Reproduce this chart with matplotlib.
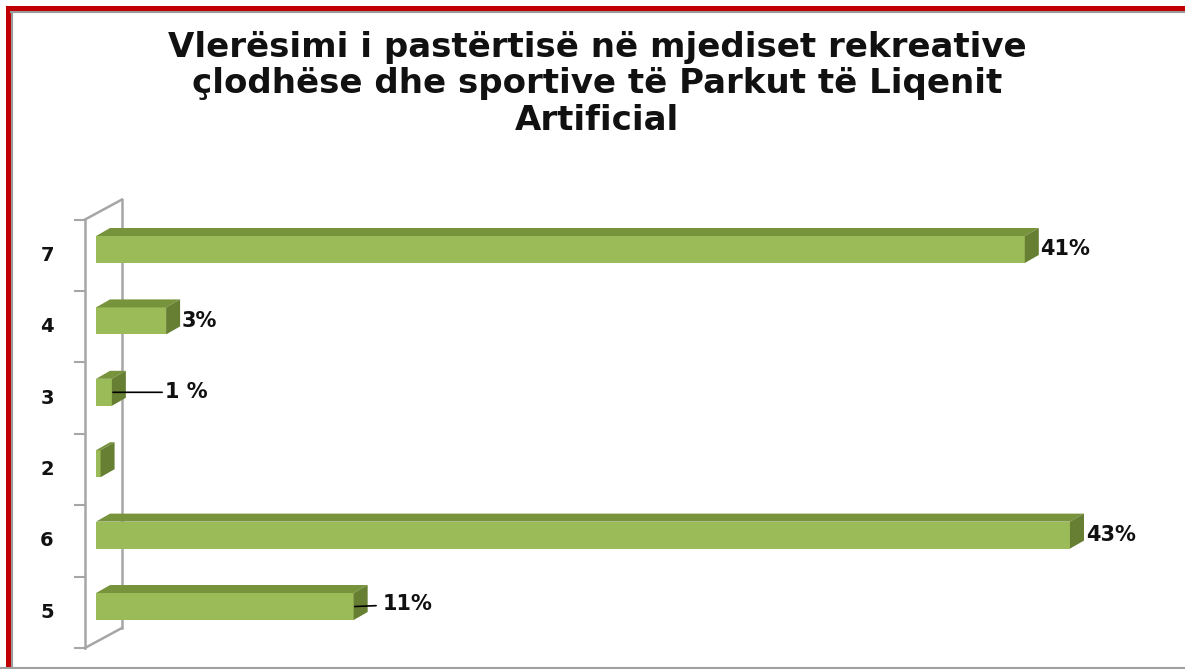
import matplotlib.pyplot as plt
from matplotlib.lines import Line2D
from matplotlib.patches import Polygon, Rectangle

# categories listed bottom to top, as drawn
categories = ["5", "6", "2", "3", "4", "7"]
values = [11.4, 43.1, 0.2, 0.7, 3.1, 41.1]
value_labels = ["11%", "43%", "", "1 %", "3%", "41%"]

title = ("Vlerësimi i pastërtisë në mjediset rekreative\n"
         "çlodhëse dhe sportive të Parkut të Liqenit\n"
         "Artificial")

FRONT = "#9BBB59"
TOP = "#77933C"
SIDE = "#677F33"
WALL = "#A6A6A6"

W, H = 1185, 669
fig = plt.figure(figsize=(W / 100, H / 100), dpi=100)
ax = fig.add_axes([0, 0, 1, 1])
ax.set_xlim(-4.25, 48.19)
ax.set_ylim(-0.875, 8.494)
ax.set_axis_off()

# 3d look: depth of bars and of the back wall (data units)
bh = 0.378
dx, dy = 0.62, 0.112
wx0, wx1 = -0.487, 1.15
wdy = 0.28
n = len(categories)
wb, wt = -0.58, n - 0.58

# wall
ax.plot([wx0, wx0], [wb, wt], color=WALL, lw=1.8, zorder=1)
ax.plot([wx1, wx1], [wb + wdy, wt + wdy], color=WALL, lw=1.8, zorder=1)
ax.plot([wx0, wx1], [wt, wt + wdy], color=WALL, lw=1.8, zorder=1)
ax.plot([wx0, wx1], [wb, wb + wdy], color=WALL, lw=1.8, zorder=1)
for k in range(n + 1):
    ax.plot([-0.93, wx0], [wb + k, wb + k], color=WALL, lw=1.5, zorder=1)

lab_kw = dict(ha="left", va="center", fontsize=15, fontweight="bold",
              family="DejaVu Sans", color="#111111", zorder=5)

for i, (cat, v, lab) in enumerate(zip(categories, values, value_labels)):
    y0, y1 = i - bh / 2, i + bh / 2
    ax.add_patch(Rectangle((0, y0), v, bh, facecolor=FRONT, edgecolor="none", zorder=3))
    ax.add_patch(Polygon([(0, y1), (v, y1), (v + dx, y1 + dy), (dx, y1 + dy)],
                         closed=True, facecolor=TOP, edgecolor="none", zorder=3))
    ax.add_patch(Polygon([(v, y0), (v + dx, y0 + dy), (v + dx, y1 + dy), (v, y1)],
                         closed=True, facecolor=SIDE, edgecolor="none", zorder=3))
    ax.text(-2.17, i - 0.08, cat, ha="center", va="center", fontsize=14,
            fontweight="bold", family="DejaVu Sans", color="#111111")

    if not lab:
        continue
    if cat == "3":
        ax.annotate(lab, xy=(v + 0.05, i), xytext=(3.05, i),
                    arrowprops=dict(arrowstyle="-", color="black", lw=1.2,
                                    shrinkA=0, shrinkB=0), **lab_kw)
    elif cat == "5":
        ax.annotate(lab, xy=(v + 0.05, i), xytext=(12.7, i + 0.03),
                    arrowprops=dict(arrowstyle="-", color="black", lw=1.2,
                                    shrinkA=3, shrinkB=0), **lab_kw)
    else:
        ax.text(v + dx + 0.08, i, lab, **lab_kw)

fig.text(597 / W, 1 - 84 / H, title, ha="center", va="center", fontsize=24.5,
         fontweight="bold", family="DejaVu Sans", linespacing=1.13, color="#111111")

# red frame on top and left, grey line at the bottom
fig.add_artist(Rectangle((6 / W, 1 - 11 / H), 1, 5 / H, transform=fig.transFigure,
                         facecolor="#C00000", edgecolor="none"))
fig.add_artist(Rectangle((6 / W, 0), 5 / W, 1 - 6 / H, transform=fig.transFigure,
                         facecolor="#C00000", edgecolor="none"))
fig.add_artist(Line2D([11 / W, 1], [1 - 12 / H, 1 - 12 / H], transform=fig.transFigure,
                      color="#9A9A9A", lw=1.5))
fig.add_artist(Line2D([12 / W, 12 / W], [0, 1 - 12 / H], transform=fig.transFigure,
                      color="#9A9A9A", lw=1.5))
fig.add_artist(Line2D([0, 1], [1.5 / H, 1.5 / H], transform=fig.transFigure,
                      color="#A0A0A0", lw=1.5))

fig.savefig("out.png", dpi=100)
plt.close(fig)
